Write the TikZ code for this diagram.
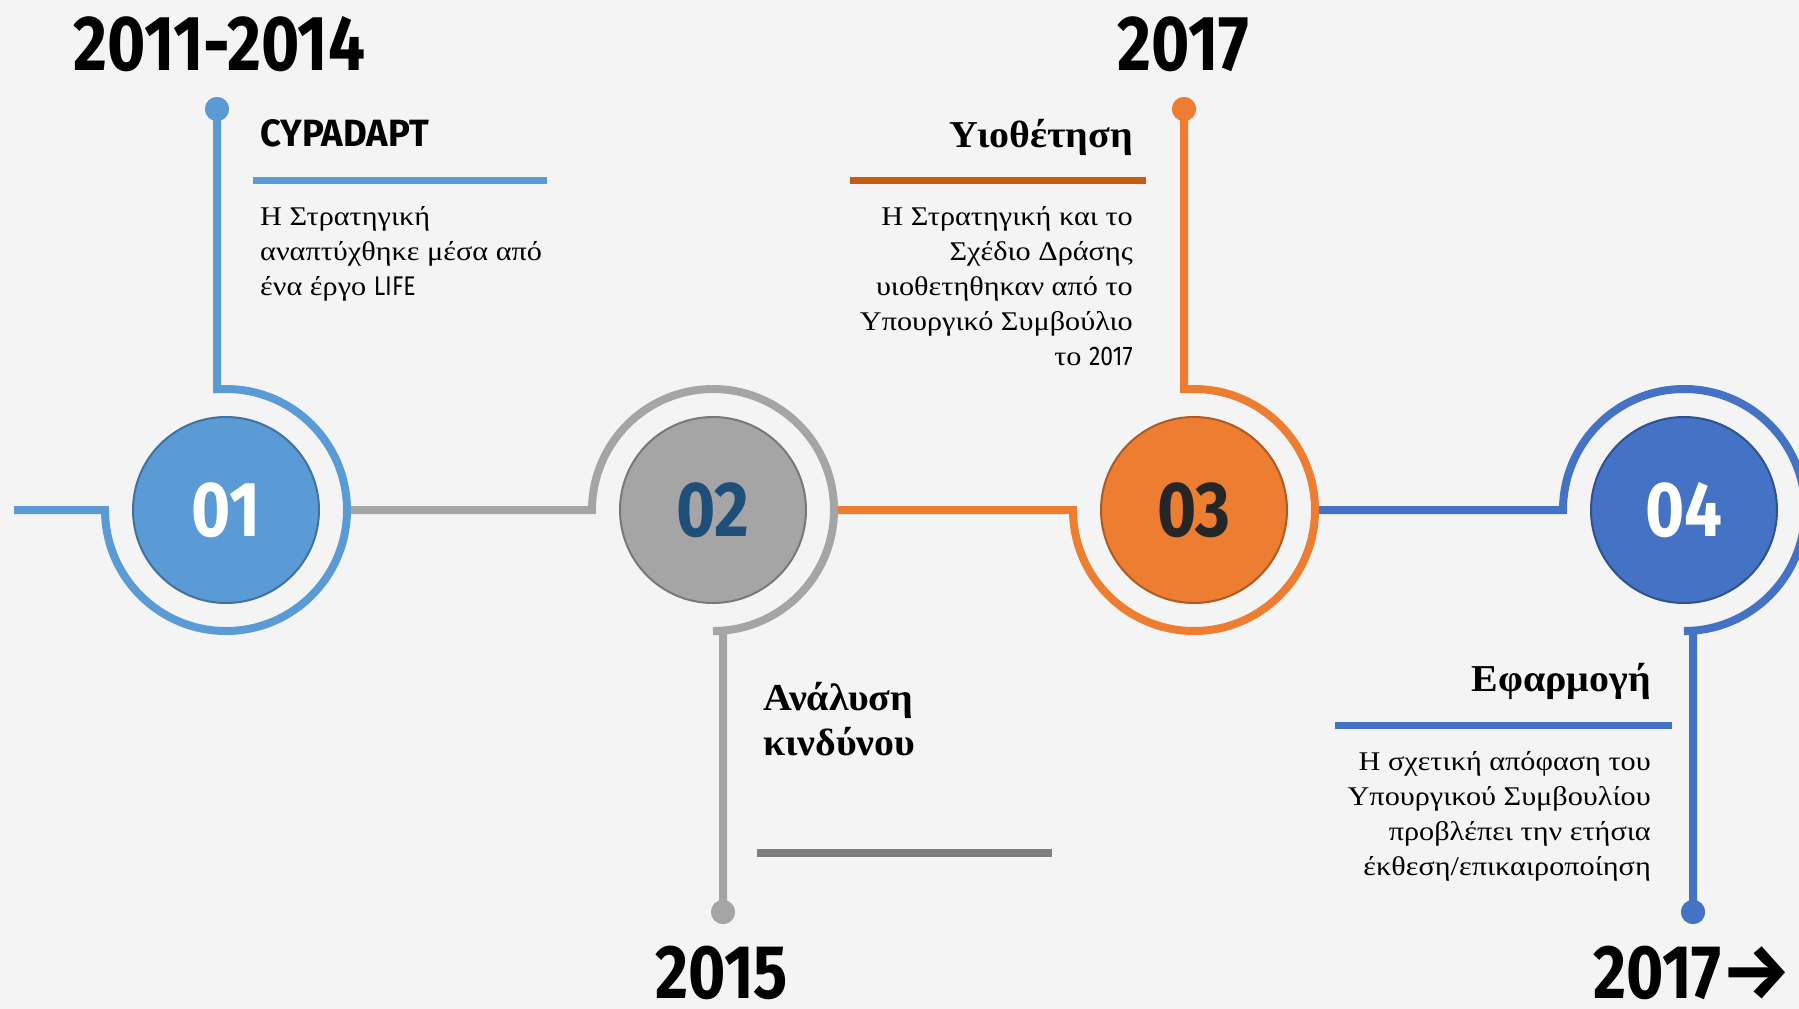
\documentclass[tikz,border=0pt]{standalone}
\usepackage{fontspec}
\setmainfont{Liberation Serif}
\newfontfamily\bodyfont{Liberation Serif}[FakeStretch=1.12]
\newfontfamily\titlefont{Liberation Serif}[FakeStretch=1.05]
\newfontfamily\yearfont{Fira Sans}[FakeStretch=0.84]
\newfontfamily\numfont{Fira Sans}[FakeStretch=0.86]
\newfontfamily\headfont{Fira Sans}[FakeStretch=0.96]
\newfontfamily\lsans{Fira Sans}[FakeStretch=0.85]
\newfontfamily\arrowfont{Fira Sans}
\usetikzlibrary{calc}
\definecolor{bgc}{HTML}{F4F4F4}
\definecolor{blueA}{HTML}{5B9BD5}
\definecolor{blueAd}{HTML}{41719C}
\definecolor{grayB}{HTML}{A5A5A5}
\definecolor{grayBd}{HTML}{787878}
\definecolor{grayBar}{HTML}{7F7F7F}
\definecolor{orangeC}{HTML}{ED7D31}
\definecolor{orangeCd}{HTML}{AE5A21}
\definecolor{orangeBar}{HTML}{C55A11}
\definecolor{blueD}{HTML}{4472C4}
\definecolor{blueDd}{HTML}{2F528F}
\definecolor{navyT}{HTML}{1F4E79}
\definecolor{darkT}{HTML}{262626}
\begin{document}
\begin{tikzpicture}[x=1pt,y=1pt,
  ringline/.style={line width=8pt, line join=miter},
  bar/.style={line width=7pt},
  bignum/.style={circle, minimum size=186pt, inner sep=0pt, line width=2pt,
    font=\numfont\bfseries\fontsize{78}{78}\selectfont},
  enddot/.style={circle, minimum size=24pt, inner sep=0pt},
  year/.style={inner sep=0pt, font=\yearfont\bfseries\fontsize{78}{78}\selectfont},
  title/.style={inner sep=0pt, font=\titlefont\bfseries\fontsize{38}{45}\selectfont},
  body/.style={inner sep=0pt, font=\bodyfont\fontsize{27}{35}\selectfont}]
\fill[bgc] (0,0) rectangle (1799,-1009);
\useasboundingbox (0,0) rectangle (1799,-1009);
\clip (0,0) rectangle (1799,-1009);

% anchor coordinates
\coordinate (L) at (14,-510);
\coordinate (p1) at (226,-510);
\coordinate (p2) at (713,-510);
\coordinate (p3) at (1194,-510);
\coordinate (p4) at (1684,-510);

% end dots
\node[enddot, fill=blueA] (d1) at (217,-109) {};
\node[enddot, fill=grayB] (d2) at (723,-912) {};
\node[enddot, fill=orangeC] (d3) at (1184,-109) {};
\node[enddot, fill=blueD] (d4) at (1693,-912) {};

% rings and connectors
\draw[ringline, blueA] (L) -- ($(p1)+(-121,0)$) arc[start angle=180, end angle=450, radius=121]
   -- (d1 |- {$(p1)+(0,121)$}) -- (d1.center);
\draw[ringline, grayB] ($(p1)+(125,0)$) -- ($(p2)+(-121,0)$) arc[start angle=180, end angle=-90, radius=121]
   -- (d2 |- {$(p2)+(0,-121)$}) -- (d2.center);
\draw[ringline, orangeC] ($(p2)+(125,0)$) -- ($(p3)+(-121,0)$) arc[start angle=180, end angle=450, radius=121]
   -- (d3 |- {$(p3)+(0,121)$}) -- (d3.center);
\draw[ringline, blueD] ($(p3)+(125,0)$) -- ($(p4)+(-121,0)$) arc[start angle=180, end angle=-90, radius=121]
   -- (d4 |- {$(p4)+(0,-121)$}) -- (d4.center);

% redraw dots on top
\node[enddot, fill=blueA] at (d1) {};
\node[enddot, fill=grayB] at (d2) {};
\node[enddot, fill=orangeC] at (d3) {};
\node[enddot, fill=blueD] at (d4) {};

% big numbered circles
\node[bignum, fill=blueA, draw=blueAd, text=white] (c1) at (p1) {01};
\node[bignum, fill=grayB, draw=grayBd, text=navyT] (c2) at (p2) {02};
\node[bignum, fill=orangeC, draw=orangeCd, text=darkT] (c3) at (p3) {03};
\node[bignum, fill=blueD, draw=blueDd, text=white] (c4) at (p4) {04};

% years
\node[year, anchor=base west] (y1) at (73,-70) {2011-2014};
\node[year, anchor=base west] (y3) at (1117,-70) {2017};
\node[year, anchor=base west, font=\yearfont\bfseries\fontsize{76}{76}\selectfont] (y2) at (655,-998) {2015};
\node[year, anchor=base west, font=\yearfont\bfseries\fontsize{76}{76}\selectfont] (y4) at (1593,-998) {2017{\arrowfont\fontsize{78}{78}\selectfont→}};

% bars
\draw[bar, blueA] (253,-180) -- (547,-180);
\draw[bar, orangeBar] (850,-180) -- (1146,-180);
\draw[bar, grayBar, line width=8pt] (757,-853) -- (1052,-853);
\draw[bar, blueD] (1335,-725.5) -- (1672,-725.5);

% titles
\node[inner sep=0pt, anchor=base west, font=\headfont\bfseries\fontsize{38}{38}\selectfont] (t1) at (260,-146) {CYPADAPT};
\node[title, anchor=base east] (t3) at (1133,-147) {Υιοθέτηση};
\node[title, anchor=base west] (t2) at (763,-710) {\begin{tabular}[t]{@{}l@{}}Ανάλυση\\κινδύνου\end{tabular}};
\node[title, anchor=base east] (t4) at (1651,-691) {Εφαρμογή};

% body texts
\node[body, anchor=base west] (b1) at (260,-225) {\begin{tabular}[t]{@{}l@{}}Η Στρατηγική\\αναπτύχθηκε μέσα από\\ένα έργο {\lsans LIFE}\end{tabular}};
\node[body, anchor=base east] (b3) at (1133,-225) {\begin{tabular}[t]{@{}r@{}}Η Στρατηγική και το\\Σχέδιο Δράσης\\υιοθετηθηκαν από το\\Υπουργικό Συμβούλιο\\το {\lsans 2017}\end{tabular}};
\node[body, anchor=base east] (b4) at (1651,-770) {\begin{tabular}[t]{@{}r@{}}Η σχετική απόφαση του\\Υπουργικού Συμβουλίου\\προβλέπει την ετήσια\\έκθεση/επικαιροποίηση\end{tabular}};
\end{tikzpicture}
\end{document}
